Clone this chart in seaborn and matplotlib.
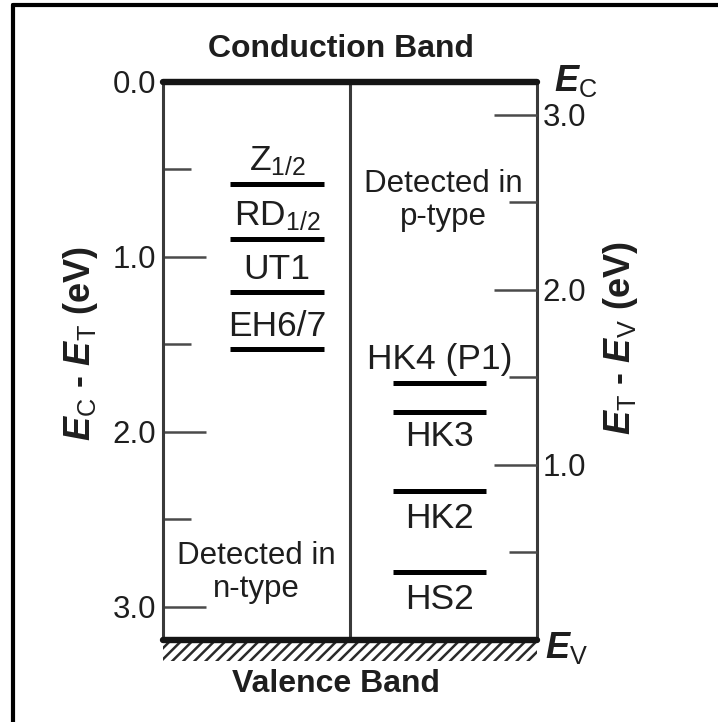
import matplotlib
matplotlib.use("Agg")
import matplotlib.pyplot as plt
import numpy as np
import pandas as pd
import seaborn as sns
from matplotlib.patches import Rectangle
from matplotlib.lines import Line2D

# ---- data -------------------------------------------------------------
BAND_GAP = 3.19  # eV, 4H-SiC

# deep levels detected in n-type material, E_C - E_T (eV)
n_names = [r"Z$_{1/2}$", r"RD$_{1/2}$", "UT1", "EH6/7"]
n_energy = [0.585, 0.90, 1.20, 1.53]

# deep levels detected in p-type material, E_T - E_V (eV)
p_names = ["HK4 (P1)", "HK3", "HK2", "HS2"]
p_energy = [1.47, 1.30, 0.85, 0.39]

left_major = [0.0, 1.0, 2.0, 3.0]
left_minor = [0.5, 1.5, 2.5]
left_labels = ["0.0", "1.0", "2.0", "3.0"]
right_major = [1.0, 2.0, 3.0]
right_minor = [0.5, 1.5, 2.5]
right_labels = ["1.0", "2.0", "3.0"]

# ---- style ------------------------------------------------------------
sns.set_theme(style="white")
plt.rcParams["font.family"] = ["Liberation Sans", "DejaVu Sans"]
plt.rcParams["mathtext.fontset"] = "custom"
plt.rcParams["mathtext.rm"] = "Liberation Sans"
plt.rcParams["mathtext.it"] = "Liberation Sans:italic"
plt.rcParams["mathtext.bf"] = "Liberation Sans:bold"
plt.rcParams["mathtext.bfit"] = "Liberation Sans:italic:bold"
plt.rcParams["hatch.linewidth"] = 1.8

INK = "#1e1e1e"
FRAME = "#3a3a3a"

fig = plt.figure(figsize=(7.18, 7.22), dpi=100)
W, H = 718, 722
ax = fig.add_axes([163 / W, 1 - 640 / H, 374 / W, (640 - 81.5) / H])
ax2 = ax.twinx()


def level_frame(names, energies, x0, x1):
    rows = []
    for name, e in zip(names, energies):
        rows.append({"level": name, "x": x0, "E": e})
        rows.append({"level": name, "x": x1, "E": e})
    return pd.DataFrame(rows)


n_df = level_frame(n_names, n_energy, 0.179, 0.430)
p_df = level_frame(p_names, p_energy, 0.615, 0.864)

sns.lineplot(data=n_df, x="x", y="E", units="level", estimator=None, sort=False,
             color="black", lw=3.6, solid_capstyle="butt", legend=False, ax=ax)
sns.lineplot(data=p_df, x="x", y="E", units="level", estimator=None, sort=False,
             color="black", lw=3.6, solid_capstyle="butt", legend=False, ax=ax2)

ax.set_xlim(0, 1)
ax.set_ylim(BAND_GAP, 0)
ax2.set_ylim(0, BAND_GAP)
for a in (ax, ax2):
    a.set_xlabel("")
    a.set_ylabel("")
    a.set_xticks([])

# frame: thin sides, heavy band edges
for a in (ax, ax2):
    for s in a.spines.values():
        s.set_visible(False)
for side in ("left", "right"):
    ax.spines[side].set_visible(True)
    ax.spines[side].set_color(FRAME)
    ax.spines[side].set_linewidth(2.2)
for side in ("top", "bottom"):
    ax.spines[side].set_visible(True)
    ax.spines[side].set_color("#151515")
    ax.spines[side].set_linewidth(4.6)
    ax.spines[side].set_capstyle("round")
ax.axvline(0.5, color=FRAME, lw=2.2)

# inward ticks on both energy scales
ax.set_yticks(left_major)
ax.set_yticklabels(left_labels)
ax.set_yticks(left_minor, minor=True)
ax2.set_yticks(right_major)
ax2.set_yticklabels(right_labels)
ax2.set_yticks(right_minor, minor=True)
ax.tick_params(axis="y", which="both", left=True, right=False, direction="in",
               width=1.8, color="#4a4a4a")
ax.tick_params(axis="y", which="major", length=31, pad=5, labelsize=22.5, labelcolor=INK)
ax.tick_params(axis="y", which="minor", length=20)
ax2.tick_params(axis="y", which="both", right=True, left=False, direction="in",
                width=1.8, color="#4a4a4a")
ax2.tick_params(axis="y", which="major", length=31, pad=4, labelsize=22.5, labelcolor=INK)
ax2.tick_params(axis="y", which="minor", length=20)

# level names
n_offsets = [10, 10, 9, 9.5]
for name, e, dy in zip(n_names, n_energy, n_offsets):
    ax.annotate(name, xy=(0.305, e), xytext=(0, dy), textcoords="offset points",
                ha="center", va="baseline", fontsize=25.5, color=INK)
p_offsets = [10, -24.5, -26.5, -26.5]
for name, e, dy in zip(p_names, p_energy, p_offsets):
    ax2.annotate(name, xy=(0.739, e), xytext=(0, dy), textcoords="offset points",
                 ha="center", va="baseline", fontsize=25.5, color=INK)

# region notes
note_kw = dict(ha="center", va="baseline", fontsize=22.5, color=INK, transform=ax.transAxes)
ax.text(0.25, 0.136, "Detected in", **note_kw)
ax.text(0.25, 0.077, "n-type", **note_kw)
ax.text(0.75, 0.802, "Detected in", **note_kw)
ax.text(0.75, 0.743, "p-type", **note_kw)

# band names and band-edge symbols
ax.text(0.476, 1.044, "Conduction Band", ha="center", va="baseline", fontsize=23,
        fontweight="bold", color=INK, transform=ax.transAxes)
ax.text(0.463, -0.093, "Valence Band", ha="center", va="baseline", fontsize=23,
        fontweight="bold", color=INK, transform=ax.transAxes)
ax.annotate(r"$\mathbfit{E}_{\mathrm{C}}$", xy=(1, 1), xycoords="axes fraction",
            xytext=(12, -6.5), textcoords="offset points", ha="left", va="baseline",
            fontsize=26, color=INK)
ax.annotate(r"$\mathbfit{E}_{\mathrm{V}}$", xy=(1, 0), xycoords="axes fraction",
            xytext=(5.5, -13), textcoords="offset points", ha="left", va="baseline",
            fontsize=26, color=INK)

# valence band hatching below the lower edge
ax.add_patch(Rectangle((0, -21 / 558.5), 1, 18 / 558.5, transform=ax.transAxes,
                       facecolor="white", edgecolor="#2a2a2a", lw=0, hatch="///",
                       clip_on=False, zorder=0))

# axis titles
fig.text(81 / W, 1 - 343 / H,
         r"$\mathbfit{E}_{\mathrm{C}}$ - $\mathbfit{E}_{\mathrm{T}}$ (eV)",
         rotation=90, ha="center", va="center", fontsize=26, fontweight="bold", color=INK)
fig.text(620 / W, 1 - 338 / H,
         r"$\mathbfit{E}_{\mathrm{T}}$ - $\mathbfit{E}_{\mathrm{V}}$ (eV)",
         rotation=90, ha="center", va="center", fontsize=26, fontweight="bold", color=INK)

# outer frame
fig.add_artist(Line2D([13 / W, 13 / W], [0, 1 - 5 / H], transform=fig.transFigure,
                      color="black", lw=3))
fig.add_artist(Line2D([13 / W, 1], [1 - 5 / H, 1 - 5 / H], transform=fig.transFigure,
                      color="black", lw=3))

fig.savefig("out.png", dpi=100)
